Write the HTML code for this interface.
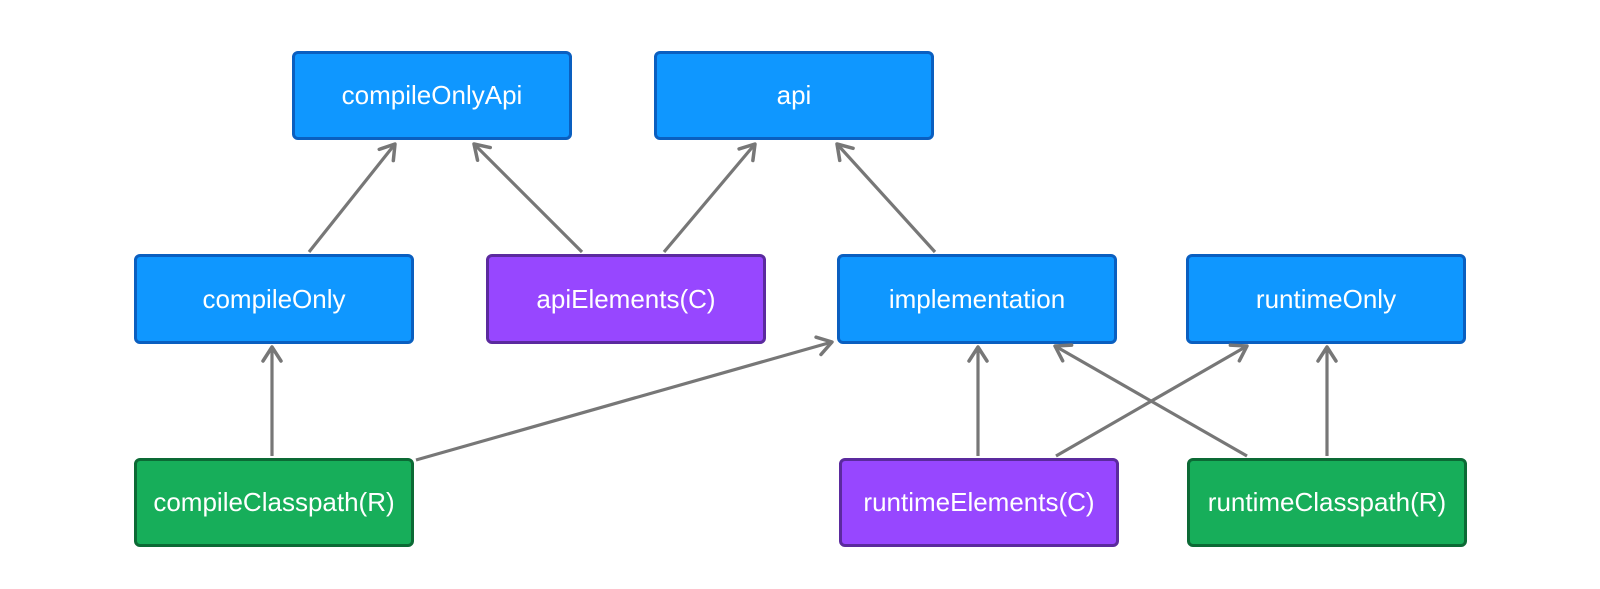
<!DOCTYPE html>
<html><head><style>
html,body{margin:0;padding:0;background:#fff;}
body{width:1600px;height:589px;position:relative;overflow:hidden;font-family:"Liberation Sans",sans-serif;}
.b{position:absolute;box-sizing:border-box;border:3px solid;border-radius:6px;color:#fff;font-size:26px;display:flex;align-items:center;justify-content:center;}
.bl{background:#0f97ff;border-color:#0a5fc0;}
.pu{background:#9747ff;border-color:#5b2a9e;}
.gr{background:#17ae5a;border-color:#0c6a35;}
svg{position:absolute;left:0;top:0;}
</style></head><body>
<div class="b bl" style="left:292px;top:51px;width:280px;height:89px">compileOnlyApi</div>
<div class="b bl" style="left:654px;top:51px;width:280px;height:89px">api</div>
<div class="b bl" style="left:134px;top:254px;width:280px;height:90px">compileOnly</div>
<div class="b pu" style="left:486px;top:254px;width:280px;height:90px">apiElements(C)</div>
<div class="b bl" style="left:837px;top:254px;width:280px;height:90px">implementation</div>
<div class="b bl" style="left:1186px;top:254px;width:280px;height:90px">runtimeOnly</div>
<div class="b gr" style="left:134px;top:458px;width:280px;height:89px">compileClasspath(R)</div>
<div class="b pu" style="left:839px;top:458px;width:280px;height:89px">runtimeElements(C)</div>
<div class="b gr" style="left:1187px;top:458px;width:280px;height:89px">runtimeClasspath(R)</div>
<svg width="1600" height="589" viewBox="0 0 1600 589">
<defs><marker id="a" viewBox="0 0 24 24" refX="20" refY="12" markerWidth="24" markerHeight="24" markerUnits="userSpaceOnUse" orient="auto">
<path d="M6 3 L20 12 L6 21" fill="none" stroke="#777" stroke-width="3.5" stroke-linecap="round" stroke-linejoin="round"/></marker></defs>
<g stroke="#777" stroke-width="3.2" fill="none" marker-end="url(#a)">
<line x1="309" y1="252" x2="395" y2="144"/>
<line x1="582" y1="252" x2="474" y2="144"/>
<line x1="664" y1="252" x2="755" y2="144"/>
<line x1="935" y1="252" x2="837" y2="144"/>
<line x1="272" y1="456" x2="272" y2="347"/>
<line x1="416" y1="460" x2="832" y2="342"/>
<line x1="978" y1="456" x2="978" y2="347"/>
<line x1="1056" y1="456" x2="1247" y2="346"/>
<line x1="1247" y1="456" x2="1055" y2="346"/>
<line x1="1327" y1="456" x2="1327" y2="347"/>
</g></svg>
</body></html>
